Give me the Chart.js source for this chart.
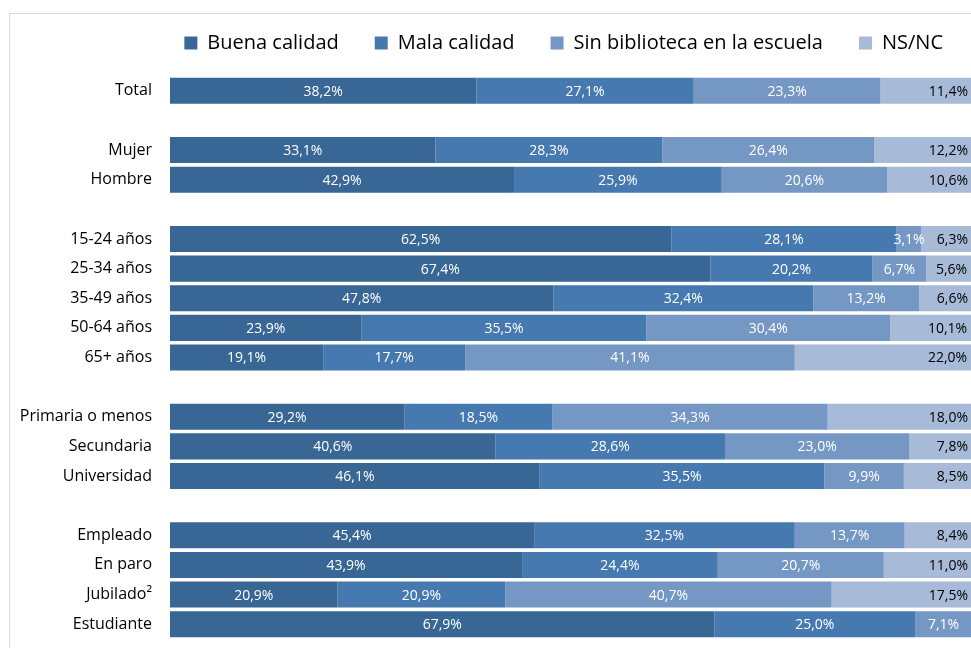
<!DOCTYPE html>
<html>
<head>
<meta charset="utf-8">
<script src="https://cdn.jsdelivr.net/npm/chart.js@4.4.1/dist/chart.umd.min.js"></script>
<style>
  html, body { margin: 0; padding: 0; background: #fff; overflow: hidden; }
  #wrap { position: relative; width: 971px; height: 648px; overflow: hidden; }
  #frame { position: absolute; left: 9px; top: 13px; width: 1000px; height: 700px; border: 1px solid #d9d9d9; }
  #c { position: absolute; left: 0; top: 0; }
</style>
</head>
<body>
<div id="wrap">
  <div id="frame"></div>
  <canvas id="c" width="975" height="648" style="width:975px;height:648px"></canvas>
</div>
<script>
// blank labels = spacer rows between groups
const categories = ['Total', '', 'Mujer', 'Hombre', '',
  '15-24 años', '25-34 años', '35-49 años', '50-64 años', '65+ años', '',
  'Primaria o menos', 'Secundaria', 'Universidad', '',
  'Empleado', 'En paro', 'Jubilado²', 'Estudiante'];

const buena = [38.2, null, 33.1, 42.9, null, 62.5, 67.4, 47.8, 23.9, 19.1, null, 29.2, 40.6, 46.1, null, 45.4, 43.9, 20.9, 67.9];
const mala  = [27.1, null, 28.3, 25.9, null, 28.1, 20.2, 32.4, 35.5, 17.7, null, 18.5, 28.6, 35.5, null, 32.5, 24.4, 20.9, 25.0];
const sinBiblio = [23.3, null, 26.4, 20.6, null, 3.1, 6.7, 13.2, 30.4, 41.1, null, 34.3, 23.0, 9.9, null, 13.7, 20.7, 40.7, 7.1];
const nsnc  = [11.4, null, 12.2, 10.6, null, 6.3, 5.6, 6.6, 10.1, 22.0, null, 18.0, 7.8, 8.5, null, 8.4, 11.0, 17.5, null];

const seriesNames = ['Buena calidad', 'Mala calidad', 'Sin biblioteca en la escuela', 'NS/NC'];
const colors = ['#386795', '#4679B0', '#7597C4', '#A7BAD7'];

// value labels inside the bars
const barLabels = {
  id: 'barLabels',
  afterDatasetsDraw(chart) {
    const ctx = chart.ctx;
    ctx.save();
    ctx.font = '14px "Open Sans"';
    ctx.textBaseline = 'middle';
    chart.data.datasets.forEach((ds, i) => {
      const meta = chart.getDatasetMeta(i);
      meta.data.forEach((bar, j) => {
        const v = ds.data[j];
        if (v == null) return;
        const p = bar.getProps(['x', 'y', 'base'], true);
        const txt = v.toFixed(1).replace('.', ',') + '%';
        if (i === 3) {
          ctx.fillStyle = '#000';
          ctx.textAlign = 'right';
          ctx.fillText(txt, p.x - 4, p.y + 1);
        } else {
          ctx.fillStyle = '#fff';
          ctx.textAlign = 'center';
          ctx.fillText(txt, (p.x + p.base) / 2, p.y + 1);
        }
      });
    });
    ctx.restore();
  }
};

// fix legend height so the plot starts where it should, nudge it right a bit
const legendTweak = {
  id: 'legendTweak',
  beforeInit(chart) {
    const lg = chart.legend;
    const fit = lg.fit;
    lg.fit = function () {
      fit.call(this);
      this.height = 79;
    };
    const draw = lg.draw;
    lg.draw = function () {
      this.left += 7; this.right += 7;
      draw.call(this);
      this.left -= 7; this.right -= 7;
    };
  }
};

const data = [buena, mala, sinBiblio, nsnc];

new Chart(document.getElementById('c'), {
  type: 'bar',
  data: {
    labels: categories,
    datasets: data.map((d, i) => ({
      label: seriesNames[i],
      data: d,
      backgroundColor: colors[i],
      borderWidth: 0,
      categoryPercentage: 1,
      barPercentage: 0.88
    }))
  },
  options: {
    indexAxis: 'y',
    responsive: false,
    animation: false,
    layout: { padding: { top: -3, bottom: 9, left: 0, right: 3 } },
    plugins: {
      tooltip: { enabled: false },
      legend: {
        position: 'top',
        align: 'end',
        labels: {
          boxWidth: 13,
          boxHeight: 13,
          padding: 36,
          color: '#000',
          font: { family: 'Open Sans', size: 20 }
        }
      }
    },
    scales: {
      x: { stacked: true, min: 0, max: 100, display: false },
      y: {
        stacked: true,
        grid: { display: false, drawTicks: false },
        border: { display: false },
        ticks: {
          color: '#000',
          padding: 18,
          autoSkip: false,
          font: { family: 'Open Sans', size: 16 }
        },
        afterFit(scale) {
          scale.width = 170;
          scale.paddingTop = 0;
          scale.paddingBottom = 0;
        }
      }
    }
  },
  plugins: [barLabels, legendTweak]
});
</script>
</body>
</html>
